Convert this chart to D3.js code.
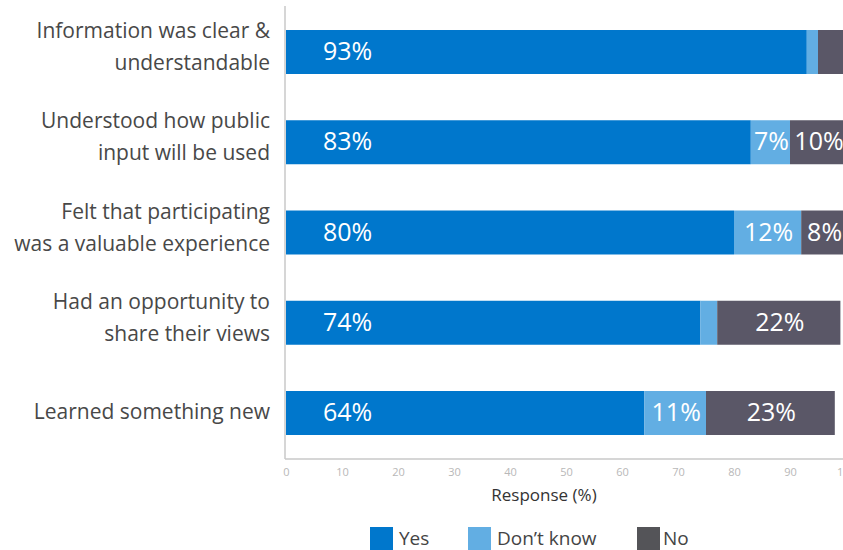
<!DOCTYPE html>
<html>
<head>
<meta charset="utf-8">
<script src="https://cdn.jsdelivr.net/npm/d3@7"></script>
<style>
  body { margin: 0; background: #fff; }
  text { font-family: "Open Sans", sans-serif; }
  .axis path, .axis line { stroke: none; }
  .axis text { fill: #b8b8b8; font-size: 11px; }
</style>
</head>
<body>
<div id="chart"></div>
<script>
(function() {
  var categories = [
    ["Information was clear &", "understandable"],
    ["Understood how public", "input will be used"],
    ["Felt that participating", "was a valuable experience"],
    ["Had an opportunity to", "share their views"],
    ["Learned something new"]
  ]
  var yesValues = [93, 83, 80, 74, 64]
  var dontKnowValues = [2, 7, 12, 3, 11]
  var noValues = [5, 10, 8, 22, 23]
  var seriesNames = ["Yes", "Don\u2019t know", "No"]
  var xTicks = [0, 10, 20, 30, 40, 50, 60, 70, 80, 90, 100]
  // segments smaller than this get no printed value
  var labelMin = 6

  var margin = { top: 6, left: 286, right: -3, bottom: 91 }
  var widthSvg = 843
  var heightSvg = 550
  var widthScale = widthSvg - margin.left - margin.right
  var heightScale = heightSvg - margin.top - margin.bottom

  var colors = ["#0077cc", "#62aee3", "#5a5767"]
  var legendColors = ["#0077cc", "#62aee3", "#545458"]

  var mainSvg = d3.select("#chart").append("svg")
    .attr("width", widthSvg)
    .attr("height", heightSvg)

  var mainG = mainSvg.append("g")
    .attr("transform", "translate(" + margin.left + "," + margin.top + ")")

  var xPositionScale = d3.scaleLinear()
    .domain([0, 100])
    .range([0, widthScale])

  var yPositionScale = d3.scaleBand()
    .domain(d3.range(categories.length))
    .range([0, heightScale])
    .paddingInner(0.5125)
    .paddingOuter(0.266)

  var rows = categories.map(function(c, i) {
    return { i: i, lines: c, Yes: yesValues[i], DK: dontKnowValues[i], No: noValues[i] }
  })
  var stacked = d3.stack().keys(["Yes", "DK", "No"])(rows)

  generateBars()
  generateLabels()
  generateAxes()
  generateLegend()

  function generateBars() {
    var layers = mainG.selectAll(".layer")
      .data(stacked)
      .enter().append("g")
      .attr("class", "layer")
      .attr("fill", function(d, i) { return colors[i] })

    layers.selectAll("rect")
      .data(function(d) { return d })
      .enter().append("rect")
      .attr("x", function(d) { return xPositionScale(d[0]) })
      .attr("y", function(d) { return yPositionScale(d.data.i) })
      .attr("width", function(d) { return xPositionScale(d[1]) - xPositionScale(d[0]) })
      .attr("height", yPositionScale.bandwidth())

    layers.selectAll(".val")
      .data(function(d, k) { return d.map(function(p) { return { p: p, k: k } }) })
      .enter().append("text")
      .filter(function(d) { return d.p[1] - d.p[0] >= labelMin })
      .attr("class", "val")
      .attr("x", function(d) {
        if (d.k === 0) return xPositionScale(11)
        return (xPositionScale(d.p[0]) + xPositionScale(d.p[1])) / 2 + 1
      })
      .attr("y", function(d) { return yPositionScale(d.p.data.i) + yPositionScale.bandwidth() / 2 + 8 })
      .attr("text-anchor", "middle")
      .attr("fill", "#fff")
      .attr("font-size", "25px")
      .text(function(d) { return (d.p[1] - d.p[0]) + "%" })
  }

  function generateLabels() {
    var labels = mainG.selectAll(".cat")
      .data(rows)
      .enter().append("text")
      .attr("class", "cat")
      .attr("text-anchor", "end")
      .attr("fill", "#484848")
      .attr("font-size", "21px")
      .attr("x", -16)
      .attr("y", function(d) {
        var mid = yPositionScale(d.i) + yPositionScale.bandwidth() / 2
        return d.lines.length > 1 ? mid - 14 : mid + 6
      })

    labels.selectAll("tspan")
      .data(function(d) { return d.lines })
      .enter().append("tspan")
      .attr("x", -16)
      .attr("dy", function(d, i) { return i === 0 ? 0 : 32 })
      .text(function(d) { return d })
  }

  function generateAxes() {
    mainG.append("line")
      .attr("x1", -1).attr("x2", -1)
      .attr("y1", 0).attr("y2", heightScale)
      .attr("stroke", "#c8c8c8")
      .attr("stroke-width", 1.5)
    mainG.append("line")
      .attr("x1", -1).attr("x2", widthScale)
      .attr("y1", heightScale).attr("y2", heightScale)
      .attr("stroke", "#c8c8c8")
      .attr("stroke-width", 1.5)

    var xAxis = d3.axisBottom(xPositionScale)
      .tickValues(xTicks)
      .tickSize(0)
      .tickPadding(9)
    mainG.append("g")
      .attr("class", "axis x-axis")
      .attr("transform", "translate(0," + heightScale + ")")
      .call(xAxis)

    mainG.append("text")
      .attr("x", 258)
      .attr("y", heightScale + 42)
      .attr("text-anchor", "middle")
      .attr("fill", "#333")
      .attr("font-size", "17px")
      .text("Response (%)")
  }

  function generateLegend() {
    var legendX = [370, 468, 637]
    var legend = mainSvg.selectAll(".legend")
      .data(seriesNames)
      .enter().append("g")
      .attr("class", "legend")
      .attr("transform", function(d, i) { return "translate(" + legendX[i] + ",527)" })

    legend.append("rect")
      .attr("width", 23)
      .attr("height", 23)
      .attr("fill", function(d, i) { return legendColors[i] })

    legend.append("text")
      .attr("x", function(d, i) { return i === 2 ? 26 : 29 })
      .attr("y", 18)
      .attr("fill", "#444")
      .attr("font-size", "19px")
      .text(function(d) { return d })
  }
})();
</script>
</body>
</html>
